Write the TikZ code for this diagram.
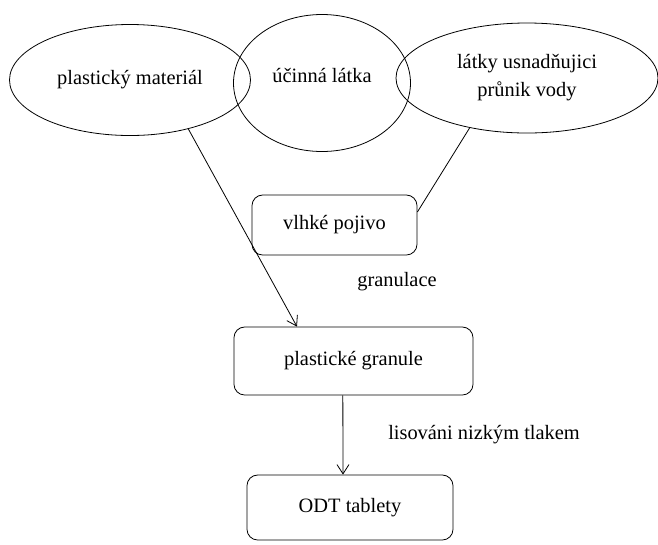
\documentclass[tikz,border=0pt]{standalone}
\usepackage{fontspec}
\setmainfont{Liberation Serif}
\usetikzlibrary{shapes.geometric,arrows.meta}

\begin{document}
\begin{tikzpicture}[x=0.75pt, y=-0.75pt,
  every node/.style={font=\fontsize{15.3}{21}\selectfont},
  en/.style={draw, ellipse, inner sep=0pt, line width=0.6pt},
  bn/.style={draw, rounded corners=8pt, inner sep=0pt, line width=0.6pt},
  ar/.style={-{Straight Barb[length=7pt, width=9pt]}, line width=0.6pt},
  ln/.style={line width=0.6pt}]

\useasboundingbox (0,0) rectangle (658,544);

% ---------------- inputs ----------------
\node[en, minimum width=180.75pt, minimum height=83.25pt] (plast) at (130,80) {plastický materiál};
\node[en, minimum width=132.75pt, minimum height=102.75pt] (act) at (322,83) {};
\node (actT) at (322,75) {účinná látka};
\node[en, minimum width=196.5pt, minimum height=82.5pt, align=center] (wat) at (527,78) {látky usnadňujici\\průnik vody};

% ---------------- process ----------------
\node[bn, minimum width=123.75pt, minimum height=45pt] (binder) at (334.5,225) {vlhké pojivo};
\node (granul) at (397,282) {granulace};
\node[bn, minimum width=179.25pt, minimum height=51pt] (gran) at (353.5,361) {plastické granule};
\node (press) at (484,435) {lisováni nizkým tlakem};
\node[bn, minimum width=154.5pt, minimum height=48.75pt] (odt) at (350,507.5) {ODT tablety};

% ---------------- connectors ----------------
\draw[ar] (plast.-40) -- ([xshift=-42.4pt]gran.north);
\draw[ln] (wat.-139) -- ([yshift=9.75pt]binder.east);
\draw[ar] ([xshift=-8pt]gran.south) -- ([xshift=-5.25pt]odt.north);
\end{tikzpicture}
\end{document}
